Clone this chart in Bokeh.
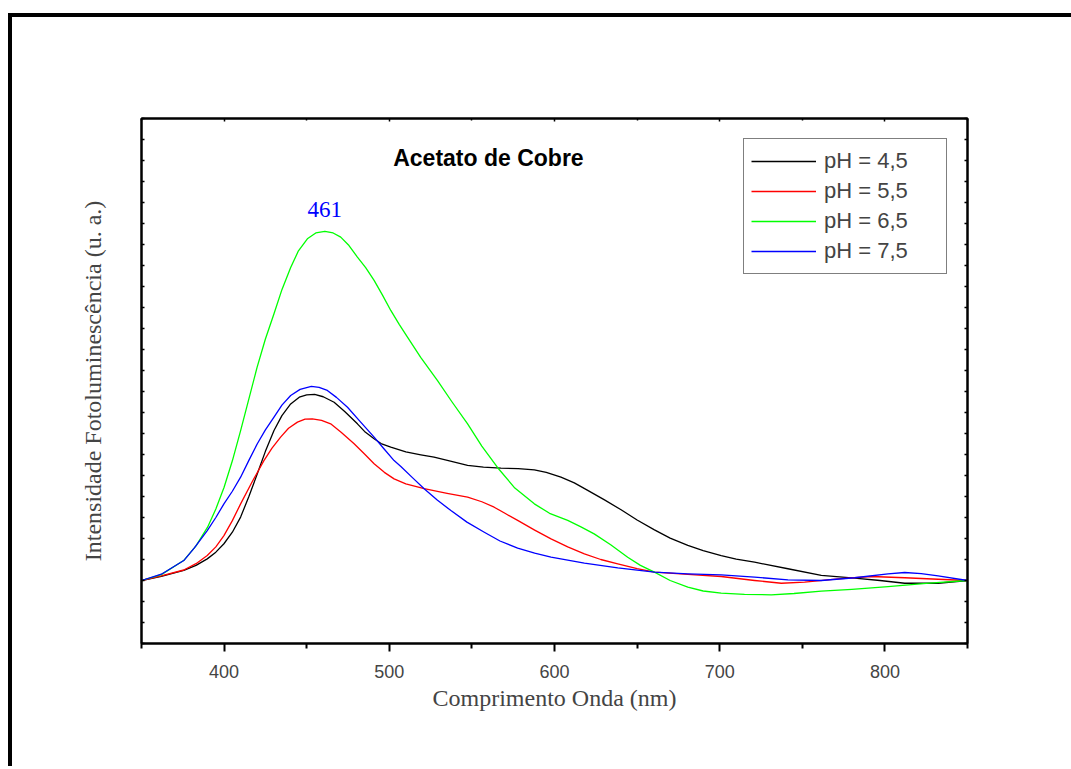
from bokeh.plotting import figure
from bokeh.models import LinearAxis, FixedTicker, Label, Range1d
from bokeh.embed import file_html
from bokeh.resources import INLINE

# ---- data (y in arbitrary units) ----
wl_ph45 = [350, 362, 375.6, 383, 389.8, 395, 399.9, 405, 410, 415, 420.1, 425, 430.2, 435, 440.3,
           445.5, 450, 454.8, 460, 466.6, 473, 480.7, 485, 490.8, 495, 500.9, 510, 519.1, 527.1,
           537, 547.4, 557, 567.6, 578, 587.8, 595, 603.9, 612, 620.1, 630, 640.3, 650, 660.5,
           670, 680.7, 690, 700.9, 710, 721.1, 741.3, 761.5, 781.7, 797, 812, 832.2, 850]
int_ph45 = [0, 0.2, 0.48, 0.72, 1.03, 1.35, 1.75, 2.3, 3.02, 4.0, 5.08, 6.15, 7.14, 7.85, 8.41,
            8.73, 8.84, 8.86, 8.75, 8.49, 8.05, 7.46, 7.1, 6.75, 6.52, 6.35, 6.12, 5.98, 5.87,
            5.68, 5.48, 5.4, 5.35, 5.33, 5.27, 5.15, 4.92, 4.65, 4.29, 3.85, 3.37, 2.88, 2.41,
            2.02, 1.67, 1.42, 1.19, 1.02, 0.87, 0.56, 0.24, 0.11, 0.0, -0.13, -0.13, 0]

wl_ph55 = [350, 362, 375.6, 383, 389.8, 395, 399.9, 405, 410, 417, 424.1, 429, 434.2, 439, 444.4,
           449, 453.4, 459, 464.5, 471, 478.7, 485, 490.8, 497, 502.9, 510, 521.1, 535, 547.4,
           556, 563.5, 570, 577.7, 588, 597.9, 608, 618.1, 628, 638.3, 650, 660.5, 680.7, 700.9,
           721.1, 737.3, 751.4, 771.6, 791.8, 812, 832.2, 850]
int_ph55 = [0, 0.22, 0.5, 0.8, 1.19, 1.6, 2.14, 2.85, 3.65, 4.7, 5.71, 6.3, 6.83, 7.25, 7.54,
            7.68, 7.7, 7.62, 7.46, 7.05, 6.51, 6.02, 5.56, 5.15, 4.84, 4.6, 4.37, 4.15, 3.97,
            3.75, 3.49, 3.2, 2.86, 2.4, 1.98, 1.6, 1.27, 1.0, 0.79, 0.57, 0.4, 0.29, 0.19,
            0, -0.13, -0.08, 0.08, 0.19, 0.13, 0.06, 0]

wl_ph65 = [350, 362, 375.5, 383, 390, 395, 400, 405, 410, 415, 420, 425, 430.2, 435, 440.3, 445,
           450.4, 455.5, 461, 466, 470.6, 475.6, 480.7, 485.7, 490.8, 495.8, 500.9, 506, 511, 519,
           529.2, 538, 547.4, 556, 565.6, 576, 587.8, 597, 608, 616, 624, 634, 644.3, 652, 660.5,
           670, 680.7, 690, 700.9, 715, 731.2, 745, 761.5, 780, 801.9, 825, 850]
int_ph65 = [0, 0.28, 0.95, 1.65, 2.54, 3.4, 4.44, 5.7, 7.14, 8.65, 10.16, 11.5, 12.7, 13.85, 14.9, 15.7,
            16.27, 16.55, 16.63, 16.55, 16.35, 15.95, 15.4, 14.9, 14.29, 13.6, 12.86, 12.2, 11.59, 10.63,
            9.52, 8.5, 7.46, 6.4, 5.37, 4.4, 3.65, 3.2, 2.86, 2.55, 2.22, 1.7, 1.11, 0.72, 0.4,
            0.0, -0.32, -0.5, -0.6, -0.66, -0.68, -0.62, -0.51, -0.42, -0.29, -0.14, 0]

wl_ph75 = [350, 362, 375.6, 382, 389.8, 395, 399.9, 405, 410, 415, 420.1, 425, 430.2, 435, 440.3,
           446, 452.8, 457.5, 462.5, 468, 474.7, 482, 490.8, 497, 502.9, 507, 514, 521.1, 529,
           537.3, 547, 557.5, 567, 577.7, 588, 597.9, 618.1, 638.3, 660.5, 680.7, 700.9, 721.1,
           741.3, 761.5, 781.7, 801.9, 812, 822, 832.2, 850]
int_ph75 = [0, 0.3, 0.95, 1.55, 2.38, 3.0, 3.65, 4.25, 4.92, 5.72, 6.51, 7.17, 7.78, 8.35, 8.81,
            9.1, 9.24, 9.2, 9.05, 8.72, 8.25, 7.6, 6.83, 6.25, 5.71, 5.43, 4.9, 4.37, 3.83,
            3.33, 2.78, 2.3, 1.88, 1.54, 1.3, 1.11, 0.83, 0.6, 0.4, 0.32, 0.27, 0.16,
            0.03, 0, 0.13, 0.32, 0.38, 0.33, 0.22, 0]

series_names = ["pH = 4,5", "pH = 5,5", "pH = 6,5", "pH = 7,5"]
series_colors = ["#000000", "#FF0000", "#00FF00", "#0000FF"]

x_major = [400, 500, 600, 700, 800]
x_minor = [350, 450, 550, 650, 750, 850]
x_tick_labels = ["400", "500", "600", "700", "800"]
y_ticks = list(range(-3, 23))

title_text = "Acetato de Cobre"
peak_text = "461"
peak_wl = 461
x_label = "Comprimento Onda (nm)"
y_label = "Intensidade Fotoluminescência (u. a.)"

SANS = "Liberation Sans"
SERIF = "Liberation Serif"

# the page shows a thick black frame at its top and left edges; the canvas sits inside it
OFF_X, OFF_Y = 12, 17
W = 1071 - OFF_X
H = 769 - OFF_Y - 3

p = figure(width=W, height=H, x_range=Range1d(350, 850), y_range=Range1d(-3, 22),
           output_backend="svg", toolbar_location=None,
           min_border_left=141 - OFF_X, min_border_right=W - (967 - OFF_X),
           min_border_top=118 - OFF_Y, min_border_bottom=H - (643 - OFF_Y),
           styles={"margin-left": f"{OFF_X}px", "margin-top": f"{OFF_Y}px",
                   "box-shadow": "-2px -2px 0px 2px black"})
p.grid.visible = False
p.background_fill_color = "white"
p.border_fill_color = "white"
p.outline_line_color = "black"
p.outline_line_width = 2

# bottom axis
xa = p.xaxis[0]
xa.ticker = FixedTicker(ticks=x_major, minor_ticks=x_minor)
xa.major_label_overrides = {v: t for v, t in zip(x_major, x_tick_labels)}
xa.major_tick_out = 8
xa.major_tick_in = 0
xa.minor_tick_out = 5
xa.minor_tick_in = 0
xa.axis_line_width = 2
xa.major_tick_line_width = 2
xa.minor_tick_line_width = 2
xa.major_label_text_font = SANS
xa.major_label_text_font_size = "18px"
xa.major_label_standoff = 13
xa.axis_label = x_label
xa.axis_label_text_font = SERIF
xa.axis_label_text_font_style = "normal"
xa.axis_label_text_font_size = "24px"
xa.axis_label_standoff = 4

# left axis
ya = p.yaxis[0]
ya.ticker = FixedTicker(ticks=y_ticks, minor_ticks=[])
ya.major_label_overrides = {v: "" for v in y_ticks}
ya.major_tick_in = 3
ya.major_tick_out = 0
ya.minor_tick_in = 0
ya.minor_tick_out = 0
ya.axis_line_width = 2
ya.major_tick_line_width = 1.5
ya.major_label_standoff = 0
ya.axis_label = y_label
ya.axis_label_text_font = SERIF
ya.axis_label_text_font_style = "normal"
ya.axis_label_text_font_size = "24px"
ya.axis_label_standoff = 36

# right axis
ra = LinearAxis(ticker=FixedTicker(ticks=y_ticks, minor_ticks=[]),
                major_label_overrides={v: "" for v in y_ticks},
                major_tick_in=3, major_tick_out=0, minor_tick_in=0, minor_tick_out=0,
                axis_line_width=2, major_tick_line_width=1.5, major_label_standoff=0)
p.add_layout(ra, "right")

# top axis
ta = LinearAxis(ticker=FixedTicker(ticks=x_major, minor_ticks=x_minor),
                major_label_overrides={v: "" for v in x_major},
                major_tick_in=3, major_tick_out=0, minor_tick_in=2, minor_tick_out=0,
                axis_line_width=2, major_tick_line_width=1.5, minor_tick_line_width=1.5,
                major_label_standoff=0)
p.add_layout(ta, "above")

# curves
for xs, ys, name, col in zip([wl_ph45, wl_ph55, wl_ph65, wl_ph75],
                             [int_ph45, int_ph55, int_ph65, int_ph75],
                             series_names, series_colors):
    p.line(xs, ys, line_color=col, line_width=1.3, legend_label=name, line_join="round")

leg = p.legend[0]
leg.location = "top_right"
leg.margin = 20
leg.padding = 7
leg.spacing = 0
leg.glyph_width = 65
leg.glyph_height = 30
leg.label_height = 30
leg.label_width = 115
leg.label_standoff = 8
leg.label_text_font = SANS
leg.label_text_font_size = "22px"
leg.border_line_color = "black"
leg.border_line_width = 1.5
leg.background_fill_color = "white"
leg.background_fill_alpha = 1

# in-plot texts
p.add_layout(Label(x=560, y=20.1, text=title_text, text_font=SANS, text_font_style="bold",
                   text_font_size="23px", text_align="center", text_baseline="middle",
                   text_color="black"))
p.add_layout(Label(x=peak_wl, y=17.67, text=peak_text, text_font=SERIF,
                   text_font_size="23px", text_align="center", text_baseline="middle",
                   text_color="#0000FF"))

open("out.html", "w").write(file_html(p, INLINE))
